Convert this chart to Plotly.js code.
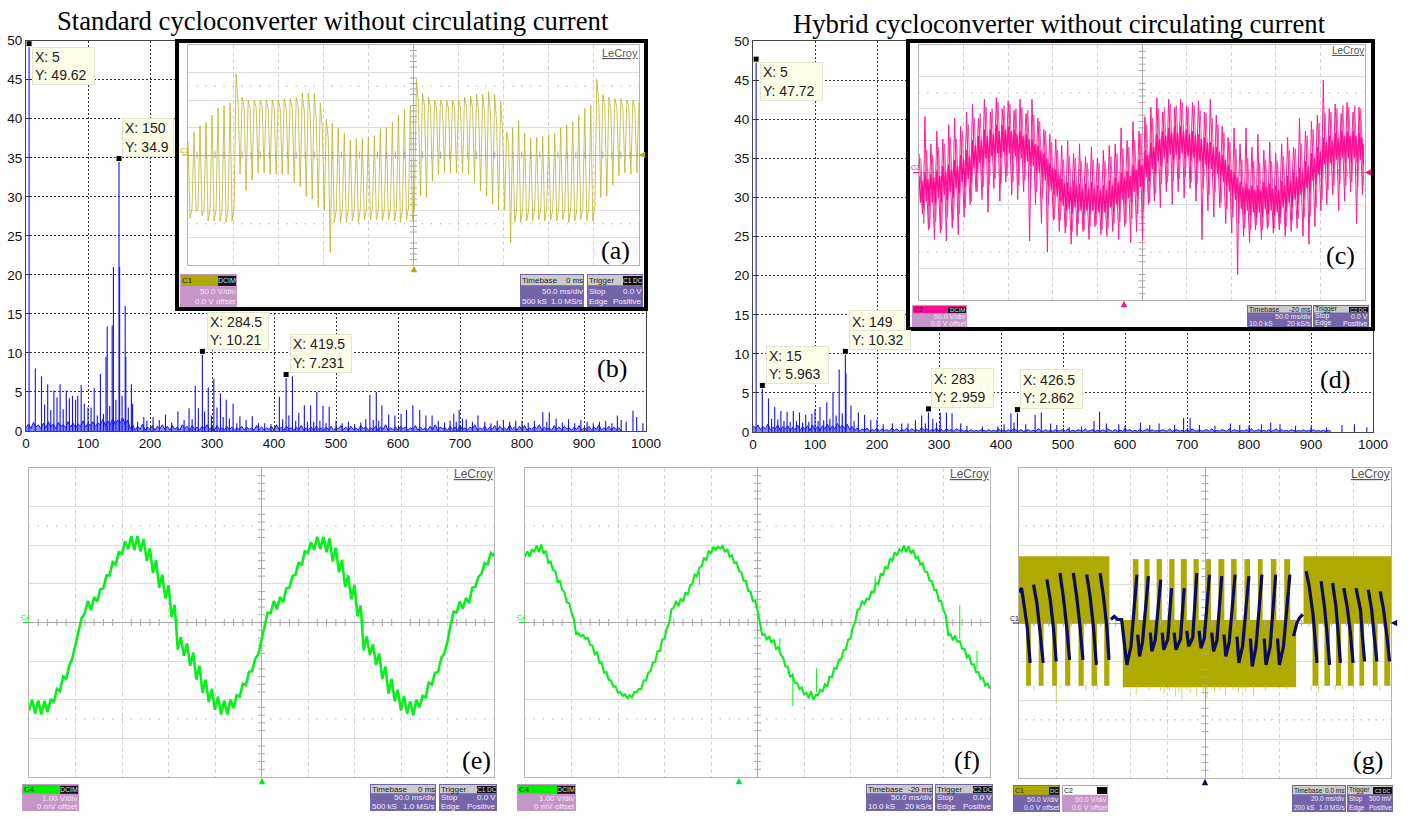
<!DOCTYPE html>
<html><head><meta charset="utf-8">
<script src="https://cdn.plot.ly/plotly-3.0.1.min.js"></script>
<style>html,body{margin:0;padding:0;background:#fff}#chart{width:1408px;height:817px}</style>
</head><body><div id="chart"></div>
<script>
// ---------- spectrum (b): standard cycloconverter ----------
const bFreq = [5,15,25,30,35,40,45,50,55,60,65,70,75,80,83.5,89,94,100,105,110,115,120,125,129,131,135,139,141,145,150,151,155,160,161,165,170,172,180,190,195,205,215,225,235,245,255,263,268,273,278,284.5,288,294,299,303,308,313.6,318,323,328,334,340,345,355,365,375,385,395,408.7,414,419.5,424,429.7,435,440,449,454,459,464,469,474,479,484,489,500,510,520,530,540,548,554.6,560,565,569,574,585,595,605,613.7,624,635,645,655,665,675,684,690,694,698.6,704,710,720,729,740,750,760,770,780,790,800,810,820,833.6,840,844,855,865,875,885,895,905,915,925,935,945,953.8,960,968,979,985,995];
const bAmp = [49.62,8,7,3.4,6,2.7,5.2,4.3,6,2.8,5.2,4.2,4.5,4,4.5,5.9,3.5,3,3,5.5,2,7.3,2.2,9.5,13.4,3.2,13.5,21,4,34.9,21,4.5,16,9.5,3,6,3.5,1.2,1.8,1.3,1.8,1.4,2.1,1.1,2.5,1.4,2.9,1.5,5.8,2.9,10.21,2.5,5.6,2,6.7,3,4.8,1.8,4,1.6,3.5,1,1.9,1.4,1.9,1,1,0.9,4.4,1.5,7.231,2,7,1.3,2.3,3.3,1.2,3.3,1.2,5,1.3,3.2,1,3.1,1.3,1,1.2,0.9,1.1,1.5,4.6,1.4,5,1.3,3.3,2.1,2,2.2,2.7,3.3,2.7,2,2,1.3,1.1,1.3,2.2,1.2,2.7,1.6,1.5,1.2,2,1.2,1,1.3,1.4,1.2,1.3,1.3,1.1,1.3,2.4,1.2,2.4,1.6,1.1,1.5,1,1.4,1.2,1,1.2,1.3,1,2,1.4,1.2,2.6,1.8,1];
const bNoise = [0.4,0.9,0.3,1.1,0.5,0.8,0.3,1.0,0.4,1.2,0.5,0.9,0.3,1.1,0.6,0.8,0.4,1.2,0.5,1.0,0.4,0.9,0.6,1.3,0.5,1.0,0.7,1.2,0.6,1.0,0.8,1.5,0.7,1.3,0.8,1.6,0.9,1.4,1.0,1.7,0.8,1.4,0.3,0.8,0.1,0.6,0.2,0.9,0.1,0.5,0.2,0.7,0.1,0.6,0.3,0.8,0.2,0.6,0.1,0.7,0.2,0.5,0.1,0.8,0.3,0.6,0.1,0.7,0.2,0.5,0.1,0.6,0.3,0.8,0.2,0.5,0.1,0.7,0.2,0.4,0.1,0.6,0.2,0.5,0.1,0.4,0.2,0.6,0.1,0.5,0.2,0.4,0.1,0.7,0.2,0.5,0.1,0.4,0.2,0.6,0.1,0.8,0.2,0.5,0.1,0.6,0.3,0.4,0.1,0.5,0.2,0.7,0.1,0.4,0.2,0.5,0.1,0.6,0.2,0.4,0.1,0.5,0.2,0.6,0.1,0.4,0.3,0.7,0.2,0.5,0.1,0.6,0.2,0.4,0.1,0.7,0.3,0.5,0.1,0.4,0.2,0.6,0.1,0.5,0.2,0.8,0.1,0.4,0.2,0.5,0.1,0.6,0.3,0.5,0.1,0.4,0.2,0.7,0.1,0.5,0.2,0.4,0.1,0.6,0.2,0.8,0.1,0.5,0.3,0.4,0.1,0.6,0.2,0.5,0.1,0.7,0.2,0.4,0.1,0.5,0.3,0.8,0.1,0.4,0.2,0.6,0.1,0.5,0.2,0.7,0.1,0.6,0.3,0.4,0.1,0.8,0.2,0.5,0.1,0.6,0.2,0.7,0.1,0.4,0.2,0.6,0.3,0.8,0.1,0.5,0.2,0.4,0.1,0.7,0.2,0.5,0.1,0.6,0.3,0.4,0.1,0.5,0.2,0.7,0.1,0.4,0.2,0.6,0.1,0.5,0.2,0.8,0.1,0.4,0.2,0.6,0.1,0.5,0.2,0.4,0.1];
const bTipX = [5,150,284.5,419.5];
const bTipY = [49.62,34.9,10.21,7.231];

// ---------- spectrum (d): hybrid cycloconverter ----------
const dFreq = [5,15,25,30,35,40,45,50,55,60,65,70,75,80,85,90,95,100,105,108,114,119,124,129,134,139,144,149,150,158,163,170,180,190,200,210,225,240,250,262,272,278,283,290,296,302,312,321,335,345,370,395,405,416,421,426.5,440,455,465,480,490,510,530,550,559,570,590,600,625,640,655,680,694.5,705,720,745,770,785,800,820,835,850,875,900,925,950,970,990];
const dAmp = [47.72,5.963,4.3,1.7,3.2,1.6,2.7,1.4,2.6,1.3,2.7,1.4,2.5,1.2,2.2,1.3,2.3,2.9,1.4,3.2,1.5,3.8,1.7,5.1,2.1,8,2.4,10.32,7.5,3.4,1.4,2.5,2.2,1.5,1.6,1,1.1,1.1,1.1,1.5,2.1,1.1,2.959,1.7,1.2,2.5,2.5,2.4,1.1,0.8,0.7,0.7,1,2.4,1.2,2.862,1,2.2,2.5,1.1,0.9,0.6,0.7,1.4,2.6,1.1,1,0.8,1.2,0.9,1.1,0.9,1.8,1.8,0.9,0.8,1.1,0.9,0.8,1,1.2,1,0.8,0.7,0.6,0.9,1,0.6];
const dNoise = [0.8,0.5,0.9,0.3,0.7,0.4,1.0,0.3,0.6,0.4,0.9,0.2,0.7,0.4,0.8,0.2,0.6,0.3,0.9,0.2,0.7,0.3,0.8,0.2,0.9,0.3,0.7,0.2,0.8,0.4,1.0,0.3,0.8,0.4,1.1,0.5,0.9,0.4,1.0,0.3,0.7,0.2,0.5,0.1,0.4,0.2,0.5,0.1,0.3,0.2,0.5,0.1,0.4,0.2,0.3,0.1,0.5,0.2,0.4,0.1,0.3,0.2,0.5,0.1,0.4,0.2,0.3,0.1,0.6,0.2,0.4,0.1,0.3,0.2,0.5,0.1,0.3,0.1,0.4,0.2,0.3,0.1,0.4,0.2,0.3,0.1,0.2,0.1,0.3,0.1,0.2,0.1,0.3,0.2,0.1,0.3,0.1,0.2,0.1,0.4,0.1,0.2,0.1,0.3,0.1,0.4,0.2,0.1,0.3,0.1,0.2,0.3,0.1,0.2,0.1,0.4,0.2,0.1,0.3,0.1,0.2,0.1,0.3,0.1,0.2,0.3,0.1,0.4,0.1,0.2,0.1,0.3,0.2,0.1,0.4,0.1,0.2,0.3,0.1,0.2,0.1,0.3,0.1,0.4,0.2,0.1,0.3,0.1,0.2,0.1,0.4,0.2,0.3,0.1,0.2,0.1,0.3,0.1,0.2,0.4,0.1,0.3,0.1,0.2,0.1,0.3,0.2,0.1,0.4,0.1,0.2,0.3,0.1,0.2,0.1,0.3,0.1,0.4,0.2,0.1,0.3,0.1,0.2,0.3,0.1,0.4,0.1,0.2,0.1,0.3,0.2,0.1,0.4,0.1,0.3,0.2,0.1,0.2,0.1,0.3,0.1,0.4,0.1,0.2,0.3,0.1,0.2,0.1,0.3,0.1,0.2,0.4,0.1,0.3,0.1,0.2,0.1,0.3,0.2,0.1,0.2,0.1,0.3,0.1,0.2,0.1,0.3,0.1,0.2,0.1,0.2,0.1,0.2,0.1];
const dTipX = [5,15,149,283,426.5];
const dTipY = [47.72,5.963,10.32,2.959,2.862];
const freqTicks = [0,100,200,300,400,500,600,700,800,900,1000];
const ampTicks = [0,5,10,15,20,25,30,35,40,45,50];

// ---------- scope (a): 3 samples per switching tooth, in divisions ----------
const aWave = [0.5,-2.3,-1.95,0.85,-2.05,-1.95,1.05,-2.2,-1.95,1.2,-2.4,-2.0,1.45,-2.4,-2.0,1.7,-2.4,-2.0,1.8,-2.45,-1.95,1.9,-2.4,-1.9,2.95,1.9,-0.7,2.1,1.75,-1.3,2.0,1.7,-0.9,2.0,1.75,-0.65,2.0,1.75,-0.65,2.0,1.7,-0.7,2.0,1.75,-0.7,2.0,1.7,-0.7,2.05,1.7,-0.7,2.05,1.75,-1.0,2.1,1.75,-1.15,2.25,1.6,-1.5,2.25,1.5,-1.6,2.25,1.3,-1.9,1.9,1.0,-2.0,1.3,0.6,-3.55,1.15,-2.45,-2.0,1.0,-2.45,-2.0,0.8,-2.45,-2.0,0.55,-2.4,-1.95,0.6,-2.45,-1.95,0.6,-2.35,-2.0,0.65,-2.35,-1.95,0.7,-2.35,-2.0,0.95,-2.4,-1.95,1.0,-2.35,-2.0,1.2,-2.4,-1.95,1.45,-2.45,-2.0,1.65,-2.35,-1.95,1.8,-2.35,-1.95,2.75,1.9,-1.5,2.25,1.8,-1.55,2.1,1.75,-0.95,2.0,1.7,-0.7,2.0,1.75,-0.65,2.0,1.7,-0.65,2.0,1.75,-0.65,2.0,1.7,-0.65,2.1,1.75,-0.7,2.15,1.7,-1.0,2.2,1.65,-1.3,2.2,1.55,-1.5,2.3,1.4,-1.8,2.2,1.2,-2.0,1.95,0.9,-2.0,0.85,0.4,-3.2,1.0,-2.45,-2.0,1.25,-2.45,-2.0,0.8,-2.4,-2.0,0.62,-2.4,-1.95,0.65,-2.35,-2.0,0.68,-2.4,-1.95,0.74,-2.35,-2.0,0.8,-2.4,-1.95,1.0,-2.35,-2.0,1.1,-2.45,-1.95,1.2,-2.4,-2.0,1.45,-2.35,-1.95,1.7,-2.4,-2.0,1.8,-2.4,-1.9,2.75,1.9,-1.55,2.2,1.75,-1.5,2.1,1.7,-1.1,2.05,1.75,-0.75,2.05,1.7,-0.65,2.0,1.75,-0.7,2.0,1.7,-0.65,1.9,1.5,-0.3];

// ---------- scope (c): 5 samples per tooth, in divisions ----------
const cWave = [0.6,-0.2,-0.9,-1.3,-0.4,1.75,-0.1,-0.9,-1.8,-0.3,0.9,-0.1,-0.9,-2.1,-0.2,1.3,0.0,-0.8,-1.9,-0.1,1.05,0.1,-0.7,-2.15,0.0,1.5,0.2,-0.6,-1.75,0.1,1.7,0.3,-0.5,-1.95,0.2,1.45,0.5,-0.3,-1.4,0.3,1.9,0.6,-0.2,-1.0,0.6,2.15,0.9,0.2,-0.6,0.8,1.7,1.1,0.3,-0.85,0.9,2.3,1.3,0.4,-1.25,1.0,1.9,1.3,0.5,-0.5,1.1,2.35,1.4,0.6,-0.9,1.0,2.0,1.5,0.6,-0.3,1.2,2.25,1.5,0.5,-0.7,1.0,1.95,1.3,0.5,-0.85,1.0,2.3,1.3,0.4,-0.6,1.0,1.85,1.3,0.2,-2.15,0.8,2.3,1.1,0.1,-1.0,0.7,1.7,0.9,-0.1,-1.6,0.5,1.35,0.6,-0.3,-2.5,0.2,1.2,0.3,-0.6,-1.5,0.0,1.05,0.1,-0.8,-1.85,-0.2,0.85,-0.2,-1.1,-1.9,-0.3,1.0,-0.3,-1.2,-2.25,-0.3,0.6,-0.2,-1.2,-2.0,-0.4,0.9,-0.3,-1.3,-1.85,-0.4,0.5,-0.4,-1.2,-2.1,-0.3,0.8,-0.3,-1.3,-1.7,-0.4,0.45,-0.4,-1.3,-1.95,-0.5,0.7,-0.4,-1.3,-2.0,-0.3,0.85,-0.2,-1.2,-1.85,-0.3,0.9,-0.1,-1.1,-2.1,-0.2,1.4,0.0,-0.9,-1.7,-0.1,1.0,0.1,-0.9,-2.2,0.0,1.6,0.2,-0.6,-1.85,0.1,1.3,0.4,-0.5,-2.15,0.3,1.75,0.7,-0.2,-1.0,0.4,2.05,0.9,0.1,-0.9,0.7,2.35,1.2,0.3,-1.1,1.0,1.9,1.3,0.4,-0.6,1.0,2.3,1.4,0.5,-1.0,1.1,2.05,1.4,0.5,-0.6,1.1,2.3,1.4,0.6,-0.8,1.0,2.1,1.4,0.4,-0.5,1.0,2.2,1.3,0.4,-0.9,0.9,2.25,1.2,0.3,-2.1,0.8,1.9,1.1,0.2,-1.2,0.7,2.3,1.0,0.0,-1.4,0.6,1.8,0.8,-0.1,-1.1,0.4,1.45,0.5,-0.3,-1.6,0.1,1.1,0.2,-0.6,-1.9,-0.1,1.4,0.0,-0.9,-3.2,-0.2,0.9,-0.3,-1.2,-2.0,-0.4,1.4,-0.3,-1.3,-2.2,-0.4,0.8,-0.4,-1.3,-1.8,-0.5,1.2,-0.4,-1.3,-2.1,-0.4,0.7,-0.3,-1.2,-1.75,-0.3,0.95,-0.3,-1.3,-1.9,-0.4,0.6,-0.4,-1.3,-1.8,-0.3,0.9,-0.2,-1.2,-2.0,-0.2,1.1,-0.1,-1.0,-1.85,-0.1,0.8,0.0,-0.9,-1.75,0.0,1.7,0.1,-0.7,-2.0,0.1,1.3,0.3,-0.5,-2.25,0.3,1.6,0.6,-0.3,-1.7,0.5,1.8,0.8,-0.1,-1.2,0.6,2.9,1.1,0.2,-1.0,0.8,2.0,1.2,0.2,-0.7,0.9,2.15,1.3,0.3,-1.2,0.9,1.85,1.3,0.4,-0.9,1.0,2.2,1.3,0.4,-0.6,1.0,1.9,1.4,0.3,-1.6,0.9,2.05,1.3,0.3,-0.7,0.9];
const cSpike = [0.45,-1.6,0.7,-1.75,0.55,-1.55,0.8,-1.8,0.9,-1.4,1.1,-1.5,1.05,-1.3,1.3,-1.1,1.5,-0.9,1.7,-0.6,1.85,-0.45,2.05,-0.4,2.0,-0.2,2.2,-0.35,2.1,-0.1,2.15,-0.3,2.0,-0.4,2.05,-0.25,1.95,-0.5,1.8,-0.6,1.6,-0.8,1.3,-1.0,0.95,-1.45,0.7,-1.5,0.4,-1.7,0.5,-1.85,0.45,-1.6,0.35,-1.8,0.3,-1.7,0.4,-1.65,0.3,-1.8,0.35,-1.75,0.5,-1.6,0.6,-1.55,0.75,-1.6,0.8,-1.45,1.0,-1.3,1.2,-1.15,1.5,-0.95,1.7,-0.65,2.0,-0.35,2.05,-0.3,2.15,-0.25,2.1,-0.2,2.2,-0.15,2.05,-0.3,2.1,-0.35,1.95,-0.5,1.85,-0.7,1.7,-0.6,1.5,-0.95,1.25,-1.15,0.95,-1.4,0.75,-1.6,0.4,-1.75,0.45,-1.8,0.35,-1.65,0.3,-1.8,0.4,-1.7,0.35,-1.75,0.35,-1.6,0.5,-1.7,0.7,-1.5,0.75,-1.45,0.9,-1.4,1.15,-1.35,1.35,-1.1,1.55,-0.85,1.85,-0.55,1.9,-0.4,2.0,-0.35,2.1,-0.4,2.05,-0.3,2.1,-0.45,2.0,-0.4];
const cCore = [-0.1,-0.95,-0.25,-1.1,0,-0.9,-0.2,-1.05,-0.05,-0.95,-0.15,-1.0,0.05,-0.8,-0.1,-0.95,0.2,-0.7,0,-0.85,0.25,-0.6,0.1,-0.8,0.4,-0.5,0.2,-0.65,0.55,-0.3,0.4,-0.45,0.7,-0.2,0.5,-0.35,1.0,0.15,0.85,0,1.15,0.3,1.0,0.15,1.35,0.45,1.15,0.3,1.35,0.5,1.2,0.35,1.5,0.6,1.3,0.45,1.5,0.65,1.35,0.5,1.45,0.6,1.3,0.45,1.35,0.5,1.2,0.35,1.3,0.45,1.15,0.3,1.2,0.35,1.05,0.2,1.05,0.2,0.9,0.05,0.85,0,0.7,-0.15,0.6,-0.25,0.45,-0.4,0.3,-0.55,0.15,-0.7,0.1,-0.75,-0.05,-0.9,-0.2,-1.05,-0.35,-1.2,-0.3,-1.15,-0.45,-1.3,-0.25,-1.1,-0.4,-1.25,-0.35,-1.2,-0.5,-1.35,-0.35,-1.2,-0.5,-1.35,-0.3,-1.2,-0.5,-1.3,-0.4,-1.25,-0.55,-1.4,-0.4,-1.25,-0.55,-1.4,-0.25,-1.1,-0.4,-1.25,-0.15,-1.0,-0.3,-1.15,0,-0.85,-0.15,-1.0,0.05,-0.8,-0.1,-0.95,0.25,-0.6,0.1,-0.75,0.4,-0.45,0.25,-0.6,0.7,-0.15,0.55,-0.3,0.95,0.1,0.8,-0.05,1.2,0.35,1.05,0.2,1.3,0.45,1.15,0.3,1.4,0.55,1.25,0.4,1.45,0.55,1.25,0.4,1.45,0.6,1.3,0.45,1.35,0.5,1.2,0.35,1.3,0.45,1.15,0.3,1.2,0.35,1.05,0.2,1.1,0.25,0.95,0.1,0.95,0.1,0.8,-0.05,0.8,-0.05,0.65,-0.2,0.55,-0.3,0.4,-0.45,0.25,-0.6,0.1,-0.75,0,-0.85,-0.15,-1.0,-0.3,-1.15,-0.45,-1.3,-0.35,-1.2,-0.5,-1.35,-0.4,-1.25,-0.55,-1.4,-0.4,-1.25,-0.55,-1.4,-0.3,-1.15,-0.45,-1.3,-0.35,-1.2,-0.5,-1.35,-0.4,-1.25,-0.55,-1.4,-0.25,-1.1,-0.4,-1.25,-0.1,-0.95,-0.25,-1.1,0,-0.85,-0.15,-1.0,0.15,-0.7,0,-0.85,0.35,-0.5,0.2,-0.65,0.6,-0.25,0.45,-0.4,0.8,-0.05,0.65,-0.2,1.1,0.25,0.95,0.1,1.15,0.3,1.0,0.15,1.25,0.4,1.1,0.25,1.3,0.45,1.15,0.3,1.3,0.45,1.15,0.3,1.3,0.45,1.15,0.3,1.25,0.4,1.1,0.25];

// ---------- scope (e): low / high per tooth, in divisions ----------
const eWave = [-2.28,-2.0,-2.36,-2.02,-2.38,-2.03,-2.32,-1.98,-2.07,-1.72,-1.78,-1.4,-1.46,-1.12,-0.92,-0.58,-0.2,0.12,0.24,0.56,0.32,0.66,0.54,0.86,0.88,1.22,1.22,1.56,1.5,1.82,1.78,2.1,1.9,2.24,1.88,2.24,1.84,2.16,1.6,1.92,1.28,1.62,0.9,1.24,0.62,0.96,0.14,0.46,-0.7,-0.38,-0.86,-0.54,-1.12,-0.78,-1.48,-1.12,-1.82,-1.48,-2.06,-1.72,-2.26,-1.92,-2.38,-2.02,-2.38,-2.0,-2.22,-1.88,-1.92,-1.58,-1.62,-1.28,-1.26,-0.94,-0.82,-0.48,-0.06,0.26,0.24,0.56,0.34,0.66,0.52,0.88,0.9,1.2,1.24,1.56,1.48,1.84,1.8,2.08,1.88,2.22,1.9,2.22,1.82,2.18,1.58,1.94,1.3,1.62,0.92,1.22,0.6,0.98,0.16,0.44,-0.72,-0.36,-0.84,-0.56,-1.1,-0.8,-1.46,-1.14,-1.84,-1.46,-2.04,-1.74,-2.28,-1.9,-2.36,-2.04,-2.4,-2.0,-2.2,-1.9,-1.94,-1.56,-1.6,-1.3,-1.28,-0.92,-0.8,-0.5,-0.08,0.28,0.26,0.54,0.36,0.64,0.5,0.9,0.92,1.18,1.26,1.54,1.5,1.8,1.72,2.05];

// ---------- scope (f): one sample per 0.05 division ----------
const fWave = [1.7,1.84,1.7,1.9,1.82,2.0,1.82,2.02,1.78,1.86,1.54,1.58,1.36,1.34,1.06,1.08,0.84,0.78,0.52,0.5,0.26,0.1,-0.3,-0.28,-0.36,-0.32,-0.42,-0.4,-0.58,-0.6,-0.82,-0.76,-1.04,-1.04,-1.3,-1.28,-1.48,-1.5,-1.66,-1.66,-1.82,-1.8,-1.9,-1.86,-1.96,-1.88,-1.94,-1.8,-1.8,-1.72,-1.72,-1.5,-1.5,-1.3,-1.26,-1.04,-1.02,-0.74,-0.74,-0.44,-0.42,-0.14,-0.02,0.34,0.38,0.56,0.42,0.62,0.54,0.78,0.72,0.96,1.0,1.24,1.2,1.42,1.46,1.68,1.6,1.86,1.78,1.96,1.88,1.96,1.92,1.98,1.82,1.9,1.7,1.74,1.54,1.56,1.34,1.3,1.08,1.08,0.82,0.8,0.56,0.56,0.32,0.02,-0.32,-0.3,-0.44,-0.36,-0.52,-0.44,-0.68,-0.64,-0.84,-0.9,-1.14,-1.14,-1.42,-1.36,-1.56,-1.56,-1.72,-1.68,-1.86,-1.82,-1.96,-1.78,-2.0,-1.88,-1.88,-1.74,-1.78,-1.6,-1.66,-1.4,-1.42,-1.18,-1.2,-0.96,-0.96,-0.72,-0.7,-0.44,-0.42,-0.12,0.0,0.32,0.36,0.56,0.48,0.62,0.6,0.8,0.78,1.02,1.0,1.26,1.24,1.44,1.4,1.66,1.6,1.82,1.74,1.9,1.84,2.0,1.82,1.98,1.78,1.88,1.66,1.7,1.5,1.54,1.32,1.3,1.08,1.08,0.84,0.84,0.56,0.56,0.32,0.18,-0.32,-0.3,-0.44,-0.36,-0.5,-0.48,-0.68,-0.68,-0.9,-0.84,-1.08,-1.08,-1.28,-1.28,-1.46,-1.44,-1.64,-1.58,-1.72];
const fSpikeT = [0.76,0.76,null,4.35,4.35,null,1.27,1.27,null,4.72,4.72,null,-1.25,-1.25,null,2.53,2.53,null,0.48,0.48,null,0,0];
const fSpikeV = [-1.3,-2.17,null,-0.43,0.45,null,-1.8,-1.19,null,-1.2,-0.73,null,1.29,0.97,null,1.2,0.8,null,-0.4,-0.8,null,0,-0.3];

// ---------- scope (g): switching blocks (start, end, low, high) in divisions ----------
const gStart = [-5,-4.81,-4.47,-4.11,-3.76,-3.40,-3.05,-2.71,-2.21,-1.94,-1.63,-1.30,-0.96,-0.65,-0.31,0.03,0.36,0.70,1.06,1.42,1.77,2.13,2.65,2.89,3.21,3.52,3.84,4.15,4.51,4.82];
const gEnd = [-2.57,-4.68,-4.34,-3.98,-3.62,-3.26,-2.90,-2.57,2.45,-1.79,-1.49,-1.16,-0.82,-0.49,-0.17,0.16,0.52,0.85,1.21,1.55,1.92,2.29,5,3.05,3.36,3.66,4.0,4.28,4.64,4.98];
const gLow = [0,-1.62,-1.62,-1.62,-1.62,-1.62,-1.62,-1.62,-1.66,0,0,0,0,0,0,0,0,0,0,0,0,0,0,-1.62,-1.62,-1.62,-1.62,-1.62,-1.62,-1.62];
const gHigh = [1.72,0,0,0,0,0,0,0,0.08,1.65,1.65,1.65,1.65,1.65,1.65,1.65,1.65,1.65,1.65,1.65,1.65,1.65,1.72,0,0,0,0,0,0,0];
const gSpikeT = [-4.0,-1.85,-1.5,-1.1,-0.8,-0.62,-0.4,-0.22,0.05,0.25,0.55,0.9,1.3,1.62,2.2,3.05,3.7,-4.6,-3.9,-3.2,-2.9,2.85,3.5,4.2,4.7,-1.2,-0.95,-0.7,-0.5,-0.05,0.4,0.75,1.1];
const gSpikeLow = [-2.07,-1.85,-1.72,-1.8,-1.9,-1.98,-1.8,-1.9,-1.95,-1.8,-1.85,-1.8,-1.9,-1.75,-1.72,-1.8,-1.72,-1.72,-1.7,-1.75,-1.72,-1.75,-1.72,-1.7,-1.75,-1.74,-1.76,-1.8,-1.72,-1.78,-1.74,-1.72,-1.76];
const gNavyT = [-5,-4.93,-4.86,-4.78,-4.70,null,-4.61,-4.52,-4.43,-4.35,null,-4.25,-4.16,-4.07,-4.0,null,-3.90,-3.81,-3.72,-3.64,null,-3.54,-3.45,-3.36,-3.28,null,-3.18,-3.09,-3.0,-2.92,null,-2.82,-2.73,-2.64,-2.58,null,-2.53,-2.44,-2.35,-2.24,-2.15,-2.10,-1.99,-1.83,null,-1.81,-1.76,-1.68,-1.52,null,-1.47,-1.43,-1.34,-1.19,null,-1.15,-1.11,-1.0,-0.90,null,-0.83,-0.78,-0.66,-0.56,null,-0.49,-0.44,-0.33,-0.22,null,-0.16,-0.11,-0.02,0.12,null,0.18,0.23,0.32,0.45,null,0.51,0.56,0.65,0.81,null,0.86,0.91,1.01,1.18,null,1.22,1.27,1.37,1.53,null,1.59,1.64,1.75,1.90,null,1.95,2.0,2.11,2.28,null,2.38,2.47,2.54,2.63,null,2.72,2.80,2.91,3.01,null,3.12,3.21,3.28,3.35,null,3.43,3.52,3.58,3.64,null,3.73,3.82,3.91,3.98,null,4.06,4.18,4.23,4.29,null,4.39,4.48,4.55,4.62,null,4.71,4.80,4.89,4.96];
const gNavyV = [0.8,0.9,0.43,-0.09,-1.03,null,0.99,0.52,-0.26,-1.03,null,1.12,0.6,-0.17,-0.99,null,1.29,0.69,-0.09,-0.95,null,1.29,0.69,-0.09,-0.95,null,1.25,0.69,-0.09,-1.08,null,1.29,0.69,-0.09,-0.95,null,0.09,0.17,0.09,0.09,-0.69,-1.08,-0.6,1.25,null,-0.3,-0.86,-0.5,1.21,null,-0.25,-0.73,-0.45,1.12,null,-0.25,-0.69,-0.42,0.9,null,-0.25,-0.69,-0.42,0.9,null,-0.2,-0.6,-0.38,1.29,null,-0.2,-0.65,-0.4,1.25,null,-0.25,-0.73,-0.45,1.21,null,-0.3,-0.86,-0.5,1.25,null,-0.35,-1.03,-0.6,1.21,null,-0.4,-1.12,-0.62,1.25,null,-0.4,-1.08,-0.62,1.25,null,-0.4,-1.08,-0.6,1.25,null,-0.34,0,0.13,0.22,null,1.34,0.95,0.17,-1.03,null,1.08,0.43,-0.26,-1.08,null,1.03,0.43,-0.26,-1.03,null,0.9,0.43,-0.26,-1.03,null,0.9,0.34,-0.34,-0.99,null,0.86,0.34,-0.34,-0.99,null,0.82,0.34,-0.34,-0.99];

// ---------- text ----------
const titleLeft = "Standard cycloconverter without circulating current";
const titleRight = "Hybrid cycloconverter without circulating current";

// ---------- layout helpers ----------
const W = 1408, H = 817;
const px = v => v / W, py = v => 1 - v / H;
const serif = "'Liberation Serif','Times New Roman',serif";
const sans = "'Liberation Sans',Arial,sans-serif";
const narrow = "'Liberation Sans Narrow','Liberation Sans',sans-serif";
const traces = [], annotations = [], shapes = [], layout = {};
const BLUE = '#1414f5';

function ax(i){return i===1?'':String(i);}
function setAxes(i,l,r,t,b,xo,yo){
  layout['xaxis'+ax(i)] = Object.assign({domain:[px(l),px(r)],anchor:'y'+ax(i),showticklabels:false,ticks:'',fixedrange:true},xo);
  layout['yaxis'+ax(i)] = Object.assign({domain:[py(b),py(t)],anchor:'x'+ax(i),showticklabels:false,ticks:'',fixedrange:true},yo);
}
function txt(x,y,text,o){
  annotations.push(Object.assign({xref:'paper',yref:'paper',x:px(x),y:py(y),text,showarrow:false,xanchor:'center',yanchor:'middle',borderpad:0,borderwidth:0,
    font:{family:sans,size:12,color:'#000'}},o||{}));
}
function rect(x0,y0,x1,y1,fill,line){
  shapes.push({type:'rect',xref:'paper',yref:'paper',x0:px(x0),x1:px(x1),y0:py(y0),y1:py(y1),fillcolor:fill,line:{width:line?1:0,color:line||fill}});
}
function tri(x,y,dir,color){
  const s=3.2; const p=(a,b)=>px(a).toFixed(5)+','+py(b).toFixed(5);
  const path = dir==='up' ? 'M'+p(x-s,y+s)+' L'+p(x+s,y+s)+' L'+p(x,y-s)+' Z'
                          : 'M'+p(x+s,y-s)+' L'+p(x+s,y+s)+' L'+p(x-s,y)+' Z';
  shapes.push({type:'path',xref:'paper',yref:'paper',path,fillcolor:color,line:{width:0}});
}
function tip(x0,y0,x1,y1,text){
  annotations.push({xref:'paper',yref:'paper',x:px(x0),y:py(y0),xanchor:'left',yanchor:'top',width:x1-x0-6,height:y1-y0-4,text,align:'left',valign:'middle',showarrow:false,
    bgcolor:'#fdfde8',bordercolor:'#e4e4d0',borderwidth:1,borderpad:2,font:{family:sans,size:14,color:'#222'}});
}
function spectrum(i,l,r,t,b,freq,amp,noise,tipX,tipY){
  const common={showticklabels:true,ticks:'inside',ticklen:4,tickcolor:'#333',showline:true,mirror:true,linecolor:'#444',linewidth:1,showgrid:true,griddash:'2px,2px',gridcolor:'#333',gridwidth:1,zeroline:false,tickfont:{family:sans,size:13.5,color:'#111'}};
  setAxes(i,l,r,t,b,
    Object.assign({range:[0,1000],tickvals:freqTicks,ticktext:freqTicks.map(String)},common),
    Object.assign({range:[0,50],tickvals:ampTicks,ticktext:ampTicks.map(String)},common));
  const a={xaxis:'x'+ax(i),yaxis:'y'+ax(i),hoverinfo:'skip'};
  traces.push(Object.assign({type:'scatter',mode:'lines',x:noise.map((_,k)=>k*4),y:noise,fill:'tozeroy',fillcolor:'rgba(20,20,245,0.5)',line:{color:BLUE,width:1}},a));
  traces.push(Object.assign({type:'bar',x:freq,y:amp,width:1.8,marker:{color:BLUE,line:{width:0}}},a));
  traces.push(Object.assign({type:'scatter',mode:'markers',x:tipX,y:tipY,cliponaxis:false,marker:{symbol:'square',size:6,color:'#000',line:{width:1,color:'#fdfde8'}}},a));
}
function scope(i,l,r,t,b,o){
  setAxes(i,l,r,t,b,
    {range:[-5,5],dtick:1,tick0:0,showline:true,mirror:true,linecolor:'#b4b4b4',linewidth:1,showgrid:true,griddash:'4px,3px',gridcolor:'#d6d6d6',gridwidth:1,zeroline:true,zerolinecolor:'#a8a8a8',zerolinewidth:1},
    {range:[-4,4],dtick:1,tick0:0,showline:true,mirror:true,linecolor:'#b4b4b4',linewidth:1,showgrid:true,griddash:'solid',gridcolor:'#dedede',gridwidth:1,zeroline:true,zerolinecolor:'#a8a8a8',zerolinewidth:1});
  const a={xaxis:'x'+ax(i),yaxis:'y'+ax(i),hoverinfo:'skip'};
  // graticule: minor ticks on the centre cross and the two dotted rows
  const hx=[],hy=[],vx=[],vy=[],dx=[],dy=[];
  for(let k=-25;k<=25;k++){ if(k%5){hx.push(k/5);hy.push(0);} dx.push(k/5,k/5);dy.push(2.5,-2.5); }
  for(let k=-20;k<=20;k++){ if(k%5){vx.push(0);vy.push(k/5);} }
  traces.push(Object.assign({type:'scatter',mode:'markers',x:hx,y:hy,marker:{symbol:'line-ns',size:5,line:{width:1,color:'#a8a8a8'}}},a));
  traces.push(Object.assign({type:'scatter',mode:'markers',x:vx,y:vy,marker:{symbol:'line-ew',size:5,line:{width:1,color:'#a8a8a8'}}},a));
  traces.push(Object.assign({type:'scatter',mode:'markers',x:dx,y:dy,marker:{symbol:'circle',size:1.6,color:'#bdbdbd'}},a));
  // LeCroy logo
  txt(r-1,t+o.logoDy,'<u>LeCroy</u>',{xanchor:'right',font:{family:narrow,size:o.logo,color:'#555'}});
  const c=o.color, cy=(t+b)/2;
  // trigger / channel markers, drawn in the margin around the screen
  tri(o.trigPx,b+4,'up',c);
  if(o.right) tri(r+3,cy,'left',c);
  shapes.push({type:'line',xref:'paper',yref:'paper',x0:px(l-6),x1:px(l),y0:py(cy),y1:py(cy),line:{color:c,width:1}});
  txt(l-4,cy-5,o.ch,{font:{family:narrow,size:7,color:c}});
}
function chBox(x0,y0,x1,y1,hdr,body,name,chip,l1,l2,fs){
  const h=(y1-y0)*0.36, rest=y1-y0-h; fs=fs||8;
  rect(x0,y0,x1,y1,body);
  rect(x0+1,y0+1,x1-1,y0+h,hdr);
  txt(x0+2,y0+h/2+0.5,name,{xanchor:'left',font:{family:narrow,size:fs,color:'#222'}});
  if(chip){
    const cw=chip.length*4+2; rect(x1-cw-1,y0+2,x1-1,y0+h,'#111');
    txt(x1-1-cw/2,y0+h/2+1,chip,{font:{family:narrow,size:fs-1,color:'#ddd'}});
  }
  txt(x1-1,y0+h+rest*0.27,l1,{xanchor:'right',font:{family:narrow,size:fs,color:'#f0e8f2'}});
  txt(x1-1,y0+h+rest*0.75,l2,{xanchor:'right',font:{family:narrow,size:fs,color:'#f0e8f2'}});
}
function timeBox(x0,y0,x1,y1,tb,perDiv,kS,rate,fs){
  const h=(y1-y0)*0.34, rest=y1-y0-h; fs=fs||8;
  rect(x0,y0,x1,y1,'#7465a9');
  rect(x0+1,y0+1,x1-1,y0+h,'#cbcbcb');
  txt(x0+2,y0+h/2+0.5,'Timebase',{xanchor:'left',font:{family:narrow,size:fs,color:'#222'}});
  txt(x1-1,y0+h/2+0.5,tb,{xanchor:'right',font:{family:narrow,size:fs,color:'#222'}});
  txt(x1-1,y0+h+rest*0.27,perDiv,{xanchor:'right',font:{family:narrow,size:fs,color:'#f0ecf6'}});
  txt(x0+2,y0+h+rest*0.75,kS,{xanchor:'left',font:{family:narrow,size:fs,color:'#f0ecf6'}});
  txt(x1-1,y0+h+rest*0.75,rate,{xanchor:'right',font:{family:narrow,size:fs,color:'#f0ecf6'}});
}
function trigBox(x0,y0,x1,y1,ch,level,fs){
  const h=(y1-y0)*0.34, rest=y1-y0-h; fs=fs||8;
  rect(x0,y0,x1,y1,'#7465a9');
  rect(x0+1,y0+1,x1-1,y0+h,'#cbcbcb');
  txt(x0+2,y0+h/2+0.5,'Trigger',{xanchor:'left',font:{family:narrow,size:fs,color:'#222'}});
  rect(x1-20,y0+2,x1-1,y0+h,'#111');
  txt(x1-10.5,y0+h/2+1,ch+' DC',{font:{family:narrow,size:fs-1.5,color:'#ddd'}});
  txt(x0+2,y0+h+rest*0.27,'Stop',{xanchor:'left',font:{family:narrow,size:fs,color:'#f0ecf6'}});
  txt(x1-1,y0+h+rest*0.27,level,{xanchor:'right',font:{family:narrow,size:fs,color:'#f0ecf6'}});
  txt(x0+2,y0+h+rest*0.75,'Edge',{xanchor:'left',font:{family:narrow,size:fs,color:'#f0ecf6'}});
  txt(x1-1,y0+h+rest*0.75,'Positive',{xanchor:'right',font:{family:narrow,size:fs,color:'#f0ecf6'}});
}
function frame(i,l,r,t,b){
  setAxes(i,l,r,t,b,{range:[0,1],showline:true,mirror:true,linecolor:'#000',linewidth:4,showgrid:false,zeroline:false},
    {range:[0,1],showline:true,mirror:true,linecolor:'#000',linewidth:4,showgrid:false,zeroline:false});
  traces.push({type:'scatter',mode:'markers',x:[0.5],y:[0.5],marker:{size:1,opacity:0},xaxis:'x'+ax(i),yaxis:'y'+ax(i),hoverinfo:'skip'});
}
const idx = n => { const o=[]; for(let k=0;k<n;k++) o.push(k); return o; };
function wave(i,vals,step,start,color,width){
  traces.push({type:'scatter',mode:'lines',x:idx(vals.length).map(k=>start+k*step),y:vals,line:{color,width},xaxis:'x'+ax(i),yaxis:'y'+ax(i),hoverinfo:'skip'});
}

// ---------- panels ----------
spectrum(1,26,646,40.7,431,bFreq,bAmp,bNoise,bTipX,bTipY);
frame(2,179,644,43,307);
scope(3,188,639,45,265,{color:'#b5ab00',trigPx:414,right:true,ch:'C1',logo:11,logoDy:8});
wave(3,aWave,0.1333/3,-5,'#bdb42a',0.8);

spectrum(4,753,1373,41.3,432,dFreq,dAmp,dNoise,dTipX,dTipY);
frame(5,910,1371,43,327);
scope(6,919,1365,45,300,{color:'#ff0a92',trigPx:1124,right:true,ch:'C2',logo:10,logoDy:5});
wave(6,cSpike,0.1333/2,-4.96,'#ff4aa8',1);
wave(6,cWave,0.1333/5,-5,'#ff1a98',1);
wave(6,cCore,0.1333/4,-5,'#ff0a92',1.3);

scope(7,29,494,468,777,{color:'#00e81a',trigPx:262,ch:'C4',logo:12,logoDy:6});
wave(7,eWave,0.1333/2,-5,'#08f01c',2.6);

scope(8,525,990,468,777,{color:'#00e81a',trigPx:739,ch:'C4',logo:12,logoDy:6});
wave(8,fWave,0.05,-5,'#08f01c',2.1);
traces.push({type:'scatter',mode:'lines',x:fSpikeT,y:fSpikeV,line:{color:'#08f01c',width:1},xaxis:'x8',yaxis:'y8',hoverinfo:'skip'});

scope(9,1019,1391,468,778,{color:'#0b0b60',trigPx:1205,right:true,ch:'C1',logo:12,logoDy:6});
traces.push({type:'bar',x:gStart.map((s,k)=>(s+gEnd[k])/2),width:gStart.map((s,k)=>gEnd[k]-s),base:gLow,y:gHigh.map((h,k)=>h-gLow[k]),marker:{color:'#aeaa00',line:{width:0}},xaxis:'x9',yaxis:'y9',hoverinfo:'skip'});
traces.push({type:'bar',x:gSpikeT,width:0.02,base:gSpikeLow,y:gSpikeLow.map(v=>-1.6-v),marker:{color:'#c6c240',line:{width:0}},xaxis:'x9',yaxis:'y9',hoverinfo:'skip'});
traces.push({type:'scatter',mode:'lines',x:gNavyT,y:gNavyV,line:{color:'#0b0b60',width:3.2},xaxis:'x9',yaxis:'y9',hoverinfo:'skip'});

// ---------- titles, letters, data tips ----------
txt(333,21,titleLeft,{font:{family:serif,size:26.7,color:'#000'}});
txt(1059,24,titleRight,{font:{family:serif,size:26.7,color:'#000'}});
[['(a)',615,250],['(b)',612,369],['(c)',1340,255],['(d)',1335,380],['(e)',476,760],['(f)',967,760],['(g)',1368,760]]
  .forEach(a=>txt(a[1],a[2],a[0],{font:{family:serif,size:26,color:'#000'}}));
tip(32,47,95,83,'X: 5<br>Y: 49.62');
tip(122,118,174,155,'X: 150<br>Y: 34.9');
tip(207,312,269,348,'X: 284.5<br>Y: 10.21');
tip(290,334,352,371,'X: 419.5<br>Y: 7.231');
tip(760,62,823,99,'X: 5<br>Y: 47.72');
tip(849,310,905,331,'X: 149');
tip(849,330,911,348,'Y: 10.32');
tip(766,346,829,382,'X: 15<br>Y: 5.963');
tip(931,368,994,406,'X: 283<br>Y: 2.959');
tip(1020,369,1083,407,'X: 426.5<br>Y: 2.862');

// ---------- scope read-out strips ----------
const PINK='#c796c8', OLIVE='#aeaa00', PURPLE='#7465a9';
chBox(180,274,237,307,OLIVE,PINK,'C1','DCIM','50.0 V/div','0.0 V offset');
timeBox(520,274,584,307,'0 ms','50.0 ms/div','500 kS','1.0 MS/s');
trigBox(587,274,643,307,'C1','0.0 V');
chBox(912,305,967,327,'#ff0a92',PINK,'C2','DCIM','50.0 V/div','0.0 V offset',7);
timeBox(1247,305,1312,327,'-20 ms','50.0 ms/div','10.0 kS','20 kS/s',7);
trigBox(1313,305,1369,327,'C2','0.0 V',7);
chBox(22,784,79,811,'#00f000',PINK,'C4','DCIM','1.00 V/div','0 mV offset');
timeBox(370,784,436,811,'0 ms','50.0 ms/div','500 kS','1.0 MS/s');
trigBox(439,784,497,811,'C1','0.0 V');
chBox(517,784,576,811,'#00f000',PINK,'C4','DCIM','1.00 V/div','0 mV offset');
timeBox(866,784,933,811,'-20 ms','50.0 ms/div','10.0 kS','20 kS/s');
trigBox(935,784,993,811,'C2','0.0 V');
chBox(1013,785,1060,812,OLIVE,PURPLE,'C1','DC','50.0 V/div','0.0 V offset',7);
chBox(1062,785,1108,812,'#ffffff',PINK,'C2','','50.0 V/div','0.0 V offset',7);
rect(1097,787,1107,794,'#000');
timeBox(1292,785,1346,812,'0.0 ms','20.0 ms/div','200 kS','1.0 MS/s',6.5);
trigBox(1347,785,1393,812,'C3','500 mV',6.5);

Object.assign(layout,{width:W,height:H,margin:{l:0,r:0,t:0,b:0},paper_bgcolor:'#fff',plot_bgcolor:'#fff',showlegend:false,hovermode:false,barmode:'overlay',annotations,shapes});
Plotly.newPlot('chart',traces,layout,{staticPlot:true,displayModeBar:false});
</script></body></html>
